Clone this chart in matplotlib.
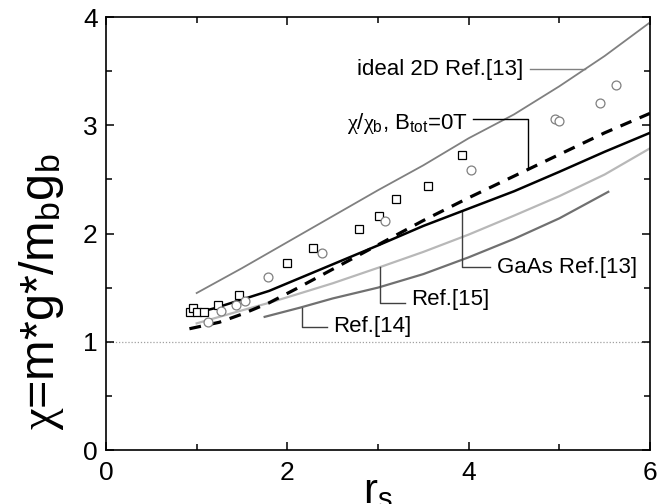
import matplotlib
matplotlib.use("Agg")
import matplotlib.pyplot as plt
from matplotlib.ticker import MultipleLocator

plt.rcParams['font.family'] = ['Liberation Sans', 'DejaVu Sans']
plt.rcParams['mathtext.fontset'] = 'custom'
plt.rcParams['mathtext.rm'] = 'Liberation Sans'
plt.rcParams['mathtext.it'] = 'Liberation Serif'

# ---- data ----
rs_ideal = [1.0, 1.5, 2.0, 2.5, 3.0, 3.5, 4.0, 4.5, 5.0, 5.5, 6.0]
chi_ideal = [1.45, 1.68, 1.92, 2.16, 2.40, 2.63, 2.88, 3.10, 3.36, 3.64, 3.95]

rs_gaas = [0.91, 1.2, 1.5, 1.8, 2.1, 2.5, 3.0, 3.5, 4.0, 4.5, 5.0, 5.5, 6.0]
chi_gaas = [1.25, 1.31, 1.39, 1.47, 1.575, 1.715, 1.89, 2.07, 2.23, 2.39, 2.57, 2.755, 2.93]

rs_chi = [0.92, 1.25, 1.5, 1.8, 2.1, 2.4, 2.7, 3.0, 3.5, 4.0, 4.5, 5.0, 5.5, 6.0]
chi_chi = [1.12, 1.18, 1.255, 1.36, 1.49, 1.625, 1.76, 1.895, 2.12, 2.33, 2.53, 2.73, 2.93, 3.11]

rs_ref15 = [1.0, 1.5, 1.8, 2.14, 2.5, 3.0, 3.5, 4.0, 4.5, 5.0, 5.5, 6.0]
chi_ref15 = [1.17, 1.29, 1.36, 1.447, 1.54, 1.683, 1.83, 1.99, 2.165, 2.345, 2.545, 2.787]

rs_ref14 = [1.75, 2.14, 2.5, 3.0, 3.5, 4.0, 4.5, 5.0, 5.54]
chi_ref14 = [1.23, 1.315, 1.40, 1.50, 1.625, 1.78, 1.95, 2.14, 2.385]

sq_rs = [0.926, 0.956, 1.0, 1.077, 1.239, 1.467, 2.0, 2.286, 2.794, 3.008, 3.195, 3.555, 3.926]
sq_chi = [1.272, 1.315, 1.272, 1.275, 1.342, 1.429, 1.725, 1.863, 2.039, 2.162, 2.316, 2.44, 2.725]

ci_rs = [1.125, 1.265, 1.434, 1.533, 1.79, 2.379, 3.077, 4.022, 4.955, 5.0, 5.448, 5.625]
ci_chi = [1.182, 1.287, 1.34, 1.374, 1.594, 1.817, 2.118, 2.587, 3.06, 3.037, 3.209, 3.372]

x_ticks = [0, 2, 4, 6]
y_ticks = [0, 1, 2, 3, 4]

# ---- figure ----
fig = plt.figure(figsize=(6.7, 5.04), dpi=100)
ax = fig.add_axes([106/670, 1-450/504, 544/670, 433/504])

ax.axhline(1.0, color='#a0a0a0', lw=0.9, ls=(0, (1, 1.5)), zorder=1)

ax.plot(rs_ideal, chi_ideal, color='#808080', lw=1.3, zorder=2)
ax.plot(rs_ref14, chi_ref14, color='#707070', lw=1.6, zorder=2)
ax.plot(rs_ref15, chi_ref15, color='#b8b8b8', lw=1.6, zorder=2)
ax.plot(rs_gaas, chi_gaas, color='black', lw=1.8, zorder=3)
ax.plot(rs_chi, chi_chi, color='black', lw=2.3, dashes=(3.7, 2.8), zorder=3)

ax.plot(sq_rs, sq_chi, ls='none', marker='s', ms=5.4, mfc='white', mec='black', mew=0.9, zorder=5)
ax.plot(ci_rs, ci_chi, ls='none', marker='o', ms=6.4, mfc='white', mec='#808080', mew=0.9, zorder=5)

# annotations and their leader lines
fs_ann = 16
ax.text(4.60, 3.515, 'ideal 2D Ref.[13]', fontsize=fs_ann, ha='right', va='center')
ax.plot([4.676, 5.283], [3.517, 3.517], color='#808080', lw=1.0)

ax.text(3.995, 2.963, r'$\chi/\chi_{\rm b}$, B$_{\rm tot}$=0T', fontsize=fs_ann, ha='right', va='baseline')
ax.plot([4.05, 4.657, 4.657], [3.057, 3.057, 2.60], color='black', lw=1.0)

ax.text(4.31, 1.69, 'GaAs Ref.[13]', fontsize=fs_ann, ha='left', va='center')
ax.plot([3.923, 3.923, 4.235], [2.196, 1.688, 1.688], color='#404040', lw=1.0)

ax.text(3.36, 1.386, 'Ref.[15]', fontsize=fs_ann, ha='left', va='center')
ax.plot([3.022, 3.022, 3.298], [1.688, 1.361, 1.361], color='#404040', lw=1.0)

ax.text(2.507, 1.139, 'Ref.[14]', fontsize=fs_ann, ha='left', va='center')
ax.plot([2.158, 2.158, 2.434], [1.309, 1.139, 1.139], color='#404040', lw=1.0)

ax.set_xlim(0, 6)
ax.set_ylim(0, 4)
ax.set_xticks(x_ticks)
ax.set_yticks(y_ticks)
ax.xaxis.set_minor_locator(MultipleLocator(1))
ax.yaxis.set_minor_locator(MultipleLocator(0.5))
ax.tick_params(which='both', direction='in', top=True, right=True, width=1.1, labelsize=19)
ax.tick_params(which='major', length=6)
ax.tick_params(which='minor', length=4)
ax.tick_params(axis='x', pad=8)
ax.tick_params(axis='y', pad=6)
for s in ax.spines.values():
    s.set_linewidth(1.2)

ax.set_xlabel(r'r$_{\rm s}$', fontsize=30, va='top')
ax.xaxis.set_label_coords(0.5, -0.052)
ax.set_ylabel(r'$\chi$=m*g*/m$_{\rm b}$g$_{\rm b}$', fontsize=35, va='center')
ax.yaxis.set_label_coords(-0.119, 0.365)

fig.savefig('out.png', dpi=100)
